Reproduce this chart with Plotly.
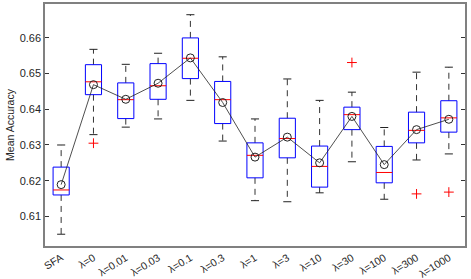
import plotly.graph_objects as go

labels = ["SFA", "λ=0", "λ=0.01", "λ=0.03", "λ=0.1", "λ=0.3", "λ=1", "λ=3",
          "λ=10", "λ=30", "λ=100", "λ=300", "λ=1000"]
whisk_hi = [0.6300, 0.6568, 0.6526, 0.6557, 0.6665, 0.6547, 0.6373, 0.6485,
            0.6425, 0.6448, 0.6349, 0.6504, 0.6518]
q3 = [0.6238, 0.6525, 0.6474, 0.6528, 0.6600, 0.6478, 0.6306, 0.6375,
      0.6297, 0.6406, 0.6296, 0.6392, 0.6424]
median = [0.6174, 0.6477, 0.6427, 0.6466, 0.6543, 0.6427, 0.6271, 0.6318,
          0.6240, 0.6385, 0.6223, 0.6341, 0.6376]
q1 = [0.6160, 0.6441, 0.6374, 0.6428, 0.6486, 0.6360, 0.6208, 0.6264,
      0.6182, 0.6343, 0.6194, 0.6306, 0.6336]
whisk_lo = [0.6050, 0.6329, 0.6350, 0.6373, 0.6425, 0.6311, 0.6144, 0.6141,
            0.6166, 0.6253, 0.6148, 0.6258, 0.6275]
mean = [0.6189, 0.6469, 0.6428, 0.6473, 0.6544, 0.6419, 0.6266, 0.6322,
        0.6250, 0.6380, 0.6245, 0.6343, 0.6372]
outlier_idx = [1, 9, 11, 12]
outlier_val = [0.6305, 0.6531, 0.6163, 0.6168]

hw = 0.25   # half box width (category units)
cw = 0.125  # half cap width

bx, by, mx, my, wx, wy, cx, cy = [], [], [], [], [], [], [], []
for i in range(len(labels)):
    bx += [i - hw, i + hw, i + hw, i - hw, i - hw, None]
    by += [q1[i], q1[i], q3[i], q3[i], q1[i], None]
    mx += [i - hw, i + hw, None]
    my += [median[i], median[i], None]
    wx += [i, i, None, i, i, None]
    wy += [q3[i], whisk_hi[i], None, q1[i], whisk_lo[i], None]
    cx += [i - cw, i + cw, None, i - cw, i + cw, None]
    cy += [whisk_hi[i], whisk_hi[i], None, whisk_lo[i], whisk_lo[i], None]

fig = go.Figure()
fig.add_trace(go.Scatter(x=wx, y=wy, mode="lines",
                         line=dict(color="#333333", width=1, dash="6px,5px"),
                         hoverinfo="skip"))
fig.add_trace(go.Scatter(x=cx, y=cy, mode="lines",
                         line=dict(color="#222222", width=1), hoverinfo="skip"))
fig.add_trace(go.Scatter(x=bx, y=by, mode="lines",
                         line=dict(color="#0000ff", width=1), hoverinfo="skip"))
fig.add_trace(go.Scatter(x=mx, y=my, mode="lines",
                         line=dict(color="#ff0000", width=1), hoverinfo="skip"))
fig.add_trace(go.Scatter(x=outlier_idx, y=outlier_val, mode="markers",
                         marker=dict(symbol="cross-thin", size=7,
                                     line=dict(color="#ff0000", width=1))))
fig.add_trace(go.Scatter(x=list(range(len(labels))), y=mean, mode="lines+markers",
                         line=dict(color="#222222", width=0.8),
                         marker=dict(symbol="circle-open", size=8,
                                     color="#222222", line=dict(width=1))))

fig.update_layout(
    width=471, height=279,
    margin=dict(l=45, r=6, t=4, b=33),
    paper_bgcolor="white", plot_bgcolor="white",
    showlegend=False,
    font=dict(family="Liberation Sans, Arial, sans-serif", size=11, color="#262626"),
)
fig.update_xaxes(range=[-0.5, 12.5], tickmode="array", automargin=False,
                 tickvals=list(range(len(labels))), ticktext=labels,
                 tickangle=-32, ticks="", showgrid=False, zeroline=False,
                 showline=True, linecolor="#808080", linewidth=1.5, mirror=True,
                 tickfont=dict(size=10.5))
fig.update_yaxes(range=[0.6017, 0.6695], tickmode="array", automargin=False,
                 tickvals=[0.61, 0.62, 0.63, 0.64, 0.65, 0.66],
                 ticktext=["0.61", "0.62", "0.63", "0.64", "0.65", "0.66"],
                 ticks="inside", ticklen=4, tickcolor="#333333", tickwidth=1,
                 showgrid=False, zeroline=False,
                 showline=True, linecolor="#808080", linewidth=1.5, mirror="ticks",
                 title=dict(text="Mean Accuracy", standoff=3, font=dict(size=10.5)))
fig.write_html("out.html", config={"displayModeBar": False},
               post_script="document.body.style.margin='0';document.body.style.padding='0';")
